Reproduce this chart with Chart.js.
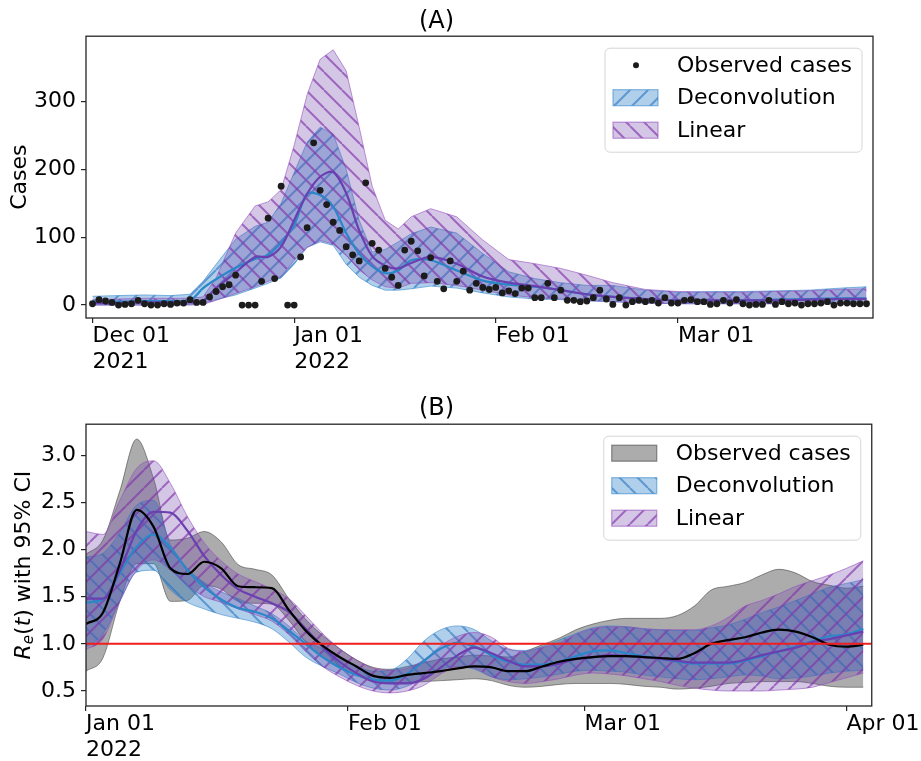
<!DOCTYPE html>
<html>
<head>
<meta charset="utf-8">
<script src="https://cdn.jsdelivr.net/npm/chart.js@4.4.1/dist/chart.umd.min.js"></script>
<style>
  body { margin: 0; background: #fff; width: 921px; height: 761px; overflow: hidden; }
  canvas { position: absolute; left: 0; }
  #casesChart { top: 0; }
  #rtChart { top: 380px; }
</style>
</head>
<body>
<canvas id="casesChart" width="921" height="380"></canvas>
<canvas id="rtChart" width="921" height="381"></canvas>
<script>
// ---- (A) daily cases, day 0 = 2021-12-01 ----
const caseDays = [0,1,2,3,4,5,6,7,8,9,10,11,12,13,14,15,16,17,18,19,20,21,22,23,24,25,26,27,28,29,
  30,31,32,33,34,35,36,37,38,39,40,41,42,43,44,45,46,47,48,49,50,51,52,53,54,55,56,57,58,59,
  60,61,62,63,64,65,66,67,68,69,70,71,72,73,74,75,76,77,78,79,80,81,82,83,84,85,86,87,88,89,
  90,91,92,93,94,95,96,97,98,99,100,101,102,103,104,105,106,107,108,109,110,111,112,113,114,115,116,117,118,119];
const observedCases = [2,8,6,4,0,1,2,7,2,0,0,2,1,3,3,8,4,4,12,20,27,30,44,0,0,0,35,128,39,175,
  0,0,71,114,239,169,148,122,110,86,74,65,180,91,81,54,41,29,81,94,80,43,70,35,24,65,35,50,22,32,
  26,23,26,18,21,17,25,25,11,11,32,11,22,7,7,5,6,11,22,9,1,11,0,5,7,5,7,3,11,3,
  3,7,8,5,5,1,2,7,3,8,2,0,1,1,7,1,5,2,3,0,2,2,3,5,0,3,3,2,2,2];

const bandDaysA = [0,4,8,12,15,17,19,22,25,27,29,31,33,35,37,39,41,43,45,47,49,52,56,60,64,68,72,76,80,85,90,95,100,105,110,115,119];
const deconvUpA  = [13,14,15,14,16,35,60,97,116,122,150,195,240,262,252,200,125,78,82,93,105,115,106,76,49,39,33,29,29,22,19,20,20,21,22,25,27];
const deconvMedA = [5,5,6,6,7,25,38,55,68,74,92,118,164,162,145,106,76,57,47,51,66,66,51,36,30,27,22,16,12,9,7,7,7,8,9,10,10];
const deconvLoA  = [0,0,0,0,1,3,8,15,25,32,40,60,85,93,88,60,41,29,22,22,24,28,25,18,12,9,8,6,5,3,2,2,2,2,2,2,2];
const linearUpA  = [8,9,10,10,10,12,40,106,146,152,170,235,310,362,376,345,262,175,125,112,130,142,130,96,67,61,54,44,33,23,20,19,19,20,21,23,24];
const linearMedA = [3,3,4,4,4,6,25,48,71,71,86,125,164,189,196,165,110,72,58,54,62,71,61,42,33,28,22,16,12,9,7,7,7,7,8,9,9];
const linearLoA  = [0,0,0,0,0,1,7,17,27,35,42,66,85,95,90,73,52,37,27,25,32,33,29,22,15,11,9,7,5,3,2,2,2,2,2,2,2];

const xTicksA = [0, 31, 62, 90];
const xLabelsA = [['Dec 01', '2021'], ['Jan 01', '2022'], 'Feb 01', 'Mar 01'];
const yTicksA = [0, 100, 200, 300];

// ---- (B) effective reproduction number, day 0 = 2022-01-01 ----
const rtDays = [0,2,4,6,8,10,12,14,16,18,20,22,24,26,28,30,32,34,36,38,40,42,44,46,
  48,50,52,54,56,58,60,62,64,66,68,70,72,74,76,78,80,82,84,86,88,90,92];
const observedRt   = [1.21,1.33,1.85,2.42,2.24,1.80,1.74,1.87,1.80,1.61,1.60,1.59,1.36,1.14,0.98,0.86,0.76,0.66,0.64,0.67,0.69,0.71,0.74,0.76,
  0.75,0.71,0.71,0.76,0.81,0.84,0.86,0.87,0.87,0.86,0.85,0.84,0.90,1.00,1.04,1.07,1.12,1.15,1.13,1.07,0.99,0.97,0.99];
const observedRtUp = [1.95,2.10,2.62,3.17,2.75,2.10,2.12,2.19,2.08,1.84,1.79,1.73,1.48,1.26,1.09,0.95,0.83,0.75,0.73,0.76,0.80,0.84,0.86,0.88,
  0.87,0.86,0.92,0.99,1.06,1.15,1.21,1.25,1.27,1.27,1.27,1.30,1.40,1.57,1.61,1.65,1.73,1.79,1.75,1.66,1.62,1.59,1.61];
const observedRtLo = [0.71,0.85,1.45,1.85,1.85,1.45,1.46,1.62,1.58,1.45,1.43,1.42,1.25,1.02,0.86,0.76,0.67,0.60,0.59,0.59,0.60,0.61,0.62,0.63,
  0.61,0.56,0.54,0.55,0.57,0.58,0.58,0.58,0.57,0.55,0.54,0.52,0.53,0.55,0.58,0.59,0.60,0.60,0.60,0.58,0.55,0.54,0.54];
const deconvRt   = [1.44,1.47,1.75,2.03,2.16,2.02,1.78,1.60,1.47,1.38,1.34,1.27,1.14,1.00,0.86,0.75,0.67,0.62,0.61,0.68,0.82,0.95,1.01,0.97,
  0.88,0.81,0.78,0.78,0.81,0.87,0.92,0.93,0.90,0.87,0.84,0.81,0.79,0.79,0.79,0.82,0.87,0.92,0.97,1.03,1.08,1.10,1.16];
const deconvRtUp = [1.92,1.96,2.18,2.47,2.52,2.05,1.80,1.65,1.55,1.48,1.40,1.32,1.19,1.03,0.95,0.86,0.77,0.71,0.72,0.84,1.03,1.15,1.19,1.15,
  1.03,0.94,0.93,0.97,1.04,1.11,1.17,1.19,1.18,1.16,1.15,1.14,1.14,1.17,1.20,1.26,1.33,1.39,1.46,1.53,1.60,1.64,1.68];
const deconvRtLo = [0.97,1.10,1.45,1.76,1.78,1.57,1.44,1.37,1.31,1.27,1.23,1.16,1.02,0.86,0.76,0.68,0.59,0.53,0.51,0.55,0.64,0.73,0.76,0.73,
  0.65,0.62,0.63,0.65,0.68,0.71,0.72,0.71,0.70,0.67,0.65,0.63,0.62,0.63,0.65,0.67,0.66,0.63,0.64,0.66,0.69,0.71,0.72];
const linearRt   = [1.48,1.48,1.78,2.20,2.40,2.39,2.20,1.93,1.73,1.58,1.50,1.43,1.34,1.16,0.97,0.81,0.69,0.60,0.58,0.58,0.63,0.75,0.88,0.96,
  0.90,0.82,0.76,0.76,0.79,0.84,0.86,0.88,0.87,0.86,0.84,0.82,0.80,0.80,0.80,0.83,0.88,0.92,0.96,1.02,1.05,1.09,1.13];
const linearRtUp = [2.19,2.16,2.52,2.86,2.94,2.70,2.35,2.07,1.88,1.74,1.66,1.58,1.48,1.30,1.11,0.95,0.83,0.74,0.72,0.74,0.83,0.98,1.08,1.12,
  1.07,0.95,0.92,0.96,1.01,1.10,1.16,1.18,1.18,1.16,1.15,1.15,1.15,1.19,1.28,1.40,1.46,1.53,1.61,1.67,1.73,1.80,1.88];
const linearRtLo = [0.94,1.05,1.45,1.78,1.89,1.78,1.62,1.50,1.44,1.37,1.31,1.24,1.10,0.92,0.76,0.65,0.56,0.50,0.48,0.50,0.56,0.68,0.76,0.74,
  0.65,0.60,0.58,0.60,0.63,0.67,0.69,0.68,0.66,0.63,0.60,0.56,0.53,0.51,0.50,0.50,0.50,0.51,0.52,0.54,0.59,0.64,0.69];
const rtThreshold = 1;

const xTicksB = [0, 31, 59, 90];
const xLabelsB = [['Jan 01', '2022'], 'Feb 01', 'Mar 01', 'Apr 01'];
const yTicksB = [0.5, 1.0, 1.5, 2.0, 2.5, 3.0];

// ---- styling ----
const FONT = 'DejaVu Sans';
const FS = 22;
Chart.defaults.font.family = FONT;
Chart.defaults.font.size = FS;
Chart.defaults.color = '#000';

const BLUE_FILL = 'rgba(40,125,200,0.37)';
const BLUE_HATCH = 'rgba(40,115,190,0.6)';
const BLUE_EDGE = 'rgba(40,130,200,0.55)';
const PURPLE_FILL = 'rgba(112,66,170,0.3)';
const PURPLE_HATCH = 'rgba(130,50,170,0.65)';
const PURPLE_EDGE = 'rgba(150,80,190,0.6)';
const GREY_FILL = 'rgba(90,90,90,0.5)';
const GREY_EDGE = 'rgba(70,70,70,0.6)';

function hatch(fill, stroke, dir) {
  const s = 18;
  const c = document.createElement('canvas');
  c.width = s; c.height = s;
  const g = c.getContext('2d');
  g.fillStyle = fill;
  g.fillRect(0, 0, s, s);
  g.strokeStyle = stroke;
  g.lineWidth = 2;
  g.beginPath();
  for (const k of [-s, 0, s]) {
    if (dir === '/') { g.moveTo(k, s); g.lineTo(k + s, 0); }
    else { g.moveTo(k, 0); g.lineTo(k + s, s); }
  }
  g.stroke();
  return g.createPattern(c, 'repeat');
}

const pts = (xs, ys) => xs.map((x, i) => ({ x: x, y: ys[i] }));

// axes frame on all four sides
const frame = {
  id: 'frame',
  afterDatasetsDraw(chart) {
    const a = chart.chartArea, c = chart.ctx;
    c.save();
    c.strokeStyle = '#262626';
    c.lineWidth = 1.3;
    c.strokeRect(a.left, a.top, a.right - a.left, a.bottom - a.top);
    c.restore();
  }
};

// legend box in the upper-right corner of the plot area
function boxLegend(items) {
  return {
    id: 'boxLegend',
    afterDraw(chart) {
      const a = chart.chartArea, c = chart.ctx;
      const w = 257, h = 104;
      const x0 = a.right - 11 - w, y0 = a.top + 12;
      c.save();
      c.beginPath();
      c.roundRect(x0, y0, w, h, 5);
      c.fillStyle = 'rgba(255,255,255,0.8)';
      c.fill();
      c.strokeStyle = '#d6d6d6';
      c.lineWidth = 1;
      c.stroke();
      items.forEach((it, i) => {
        const cy = y0 + 17 + 32.5 * i;
        if (it.dot) {
          c.beginPath();
          c.arc(x0 + 31, cy, 3, 0, Math.PI * 2);
          c.fillStyle = it.dot;
          c.fill();
        } else {
          c.fillStyle = it.fill;
          c.fillRect(x0 + 8, cy - 8, 45, 16);
          c.strokeStyle = it.edge;
          c.lineWidth = 1.2;
          c.strokeRect(x0 + 8, cy - 8, 45, 16);
        }
        c.fillStyle = '#000';
        c.font = FS + 'px ' + FONT;
        c.textBaseline = 'middle';
        c.fillText(it.label, x0 + 72, cy + 1);
      });
      c.restore();
    }
  };
}

// y-axis title with italic R, subscript e and italic t
const rtTitle = {
  id: 'rtTitle',
  afterDraw(chart) {
    const c = chart.ctx;
    const parts = [
      { t: 'R', f: 'italic ' + FS + 'px ' + FONT, dy: 0 },
      { t: 'e', f: 'italic 15px ' + FONT, dy: 5 },
      { t: '(', f: FS + 'px ' + FONT, dy: 0 },
      { t: 't', f: 'italic ' + FS + 'px ' + FONT, dy: 0 },
      { t: ') with 95% CI', f: FS + 'px ' + FONT, dy: 0 }
    ];
    c.save();
    let total = 0;
    parts.forEach(p => { c.font = p.f; p.w = c.measureText(p.t).width; total += p.w; });
    const cy = (chart.chartArea.top + chart.chartArea.bottom) / 2;
    c.translate(24, cy);
    c.rotate(-Math.PI / 2);
    c.fillStyle = '#000';
    c.textBaseline = 'middle';
    let x = -total / 2;
    parts.forEach(p => { c.font = p.f; c.fillText(p.t, x, p.dy); x += p.w; });
    c.restore();
  }
};

function xScale(min, max, ticks, labels, height) {
  return {
    type: 'linear', min: min, max: max,
    afterBuildTicks: s => { s.ticks = ticks.map(v => ({ value: v })); },
    afterFit: s => { s.height = height; },
    ticks: {
      autoSkip: false, maxRotation: 0, align: 'start', padding: 0,
      callback: v => labels[ticks.indexOf(v)]
    },
    grid: { display: true, drawOnChartArea: false, drawTicks: true, tickLength: 5, color: '#262626', lineWidth: 1.2 },
    border: { display: false }
  };
}

function yScale(min, max, ticks, fmt, title) {
  return {
    type: 'linear', min: min, max: max,
    afterBuildTicks: s => { s.ticks = ticks.map(v => ({ value: v })); },
    afterFit: s => { s.width = 86; },
    ticks: { padding: 5, callback: fmt },
    grid: { display: true, drawOnChartArea: false, drawTicks: true, tickLength: 5, color: '#262626', lineWidth: 1.2 },
    border: { display: false },
    title: title
  };
}

const line = (label, data, color, width, order, extra) => Object.assign({
  label: label, data: data, borderColor: color, borderWidth: width,
  pointRadius: 0, fill: false, order: order
}, extra || {});

// ---- chart (A) ----
const blueSlash = hatch(BLUE_FILL, BLUE_HATCH, '/');
const purpleBack = hatch(PURPLE_FILL, PURPLE_HATCH, '\\');

new Chart(document.getElementById('casesChart'), {
  type: 'line',
  data: {
    datasets: [
      { label: 'Observed cases', data: pts(caseDays, observedCases), showLine: false,
        pointRadius: 3.4, pointBackgroundColor: '#1c1c1c', pointBorderWidth: 0, order: 0 },
      line('Linear median', pts(bandDaysA, linearMedA), '#6a3fb0', 2.2, 1, { tension: 0.3 }),
      line('Deconvolution median', pts(bandDaysA, deconvMedA), '#2b88c8', 2.2, 2, { tension: 0.3 }),
      line('Linear', pts(bandDaysA, linearUpA), PURPLE_EDGE, 1, 3, { fill: '+1', backgroundColor: purpleBack }),
      line('Linear lower', pts(bandDaysA, linearLoA), PURPLE_EDGE, 1, 4),
      line('Deconvolution', pts(bandDaysA, deconvUpA), BLUE_EDGE, 1, 5, { fill: '+1', backgroundColor: blueSlash }),
      line('Deconvolution lower', pts(bandDaysA, deconvLoA), BLUE_EDGE, 1, 6)
    ]
  },
  options: {
    responsive: false, animation: false,
    layout: { padding: { left: 0, right: 48, top: 0, bottom: 0 } },
    plugins: {
      legend: { display: false },
      tooltip: { enabled: false },
      title: { display: true, text: '(A)', font: { size: 24, weight: 'normal' }, color: '#000', padding: { top: 7, bottom: 0.4 } }
    },
    scales: {
      x: xScale(-1, 120, xTicksA, xLabelsA, 62),
      y: yScale(-19, 396, yTicksA, v => String(v),
        { display: true, text: 'Cases', font: { size: FS }, color: '#000', padding: { top: 7, bottom: 0 } })
    }
  },
  plugins: [frame, boxLegend([
    { label: 'Observed cases', dot: '#1c1c1c' },
    { label: 'Deconvolution', fill: blueSlash, edge: BLUE_EDGE },
    { label: 'Linear', fill: purpleBack, edge: PURPLE_EDGE }
  ])]
});

// ---- chart (B) ----
const blueBack = hatch(BLUE_FILL, BLUE_HATCH, '\\');
const purpleSlash = hatch(PURPLE_FILL, PURPLE_HATCH, '/');

new Chart(document.getElementById('rtChart'), {
  type: 'line',
  data: {
    datasets: [
      line('Threshold', [{ x: 0, y: rtThreshold }, { x: 93, y: rtThreshold }], '#f01e1e', 2, 0),
      line('Observed median', pts(rtDays, observedRt), '#000', 2.2, 1, { cubicInterpolationMode: 'monotone' }),
      line('Linear median', pts(rtDays, linearRt), '#6a3fb0', 2.2, 2, { cubicInterpolationMode: 'monotone' }),
      line('Deconvolution median', pts(rtDays, deconvRt), '#2b88c8', 2.2, 3, { cubicInterpolationMode: 'monotone' }),
      line('Linear', pts(rtDays, linearRtUp), PURPLE_EDGE, 1, 4, { fill: '+1', backgroundColor: purpleSlash, cubicInterpolationMode: 'monotone' }),
      line('Linear lower', pts(rtDays, linearRtLo), PURPLE_EDGE, 1, 5, { cubicInterpolationMode: 'monotone' }),
      line('Deconvolution', pts(rtDays, deconvRtUp), BLUE_EDGE, 1, 6, { fill: '+1', backgroundColor: blueBack, cubicInterpolationMode: 'monotone' }),
      line('Deconvolution lower', pts(rtDays, deconvRtLo), BLUE_EDGE, 1, 7, { cubicInterpolationMode: 'monotone' }),
      line('Observed cases', pts(rtDays, observedRtUp), GREY_EDGE, 1, 8, { fill: '+1', backgroundColor: GREY_FILL, cubicInterpolationMode: 'monotone' }),
      line('Observed lower', pts(rtDays, observedRtLo), GREY_EDGE, 1, 9, { cubicInterpolationMode: 'monotone' })
    ]
  },
  options: {
    responsive: false, animation: false,
    layout: { padding: { left: 0, right: 48, top: 0, bottom: 0 } },
    plugins: {
      legend: { display: false },
      tooltip: { enabled: false },
      title: { display: true, text: '(B)', font: { size: 24, weight: 'normal' }, color: '#000', padding: { top: 14.6, bottom: 0.8 } }
    },
    scales: {
      x: xScale(0, 93, xTicksB, xLabelsB, 55),
      y: yScale(0.341, 3.328, yTicksB, v => v.toFixed(1), { display: false })
    }
  },
  plugins: [frame, rtTitle, boxLegend([
    { label: 'Observed cases', fill: GREY_FILL, edge: GREY_EDGE },
    { label: 'Deconvolution', fill: blueBack, edge: BLUE_EDGE },
    { label: 'Linear', fill: purpleSlash, edge: PURPLE_EDGE }
  ])]
});
</script>
</body>
</html>
